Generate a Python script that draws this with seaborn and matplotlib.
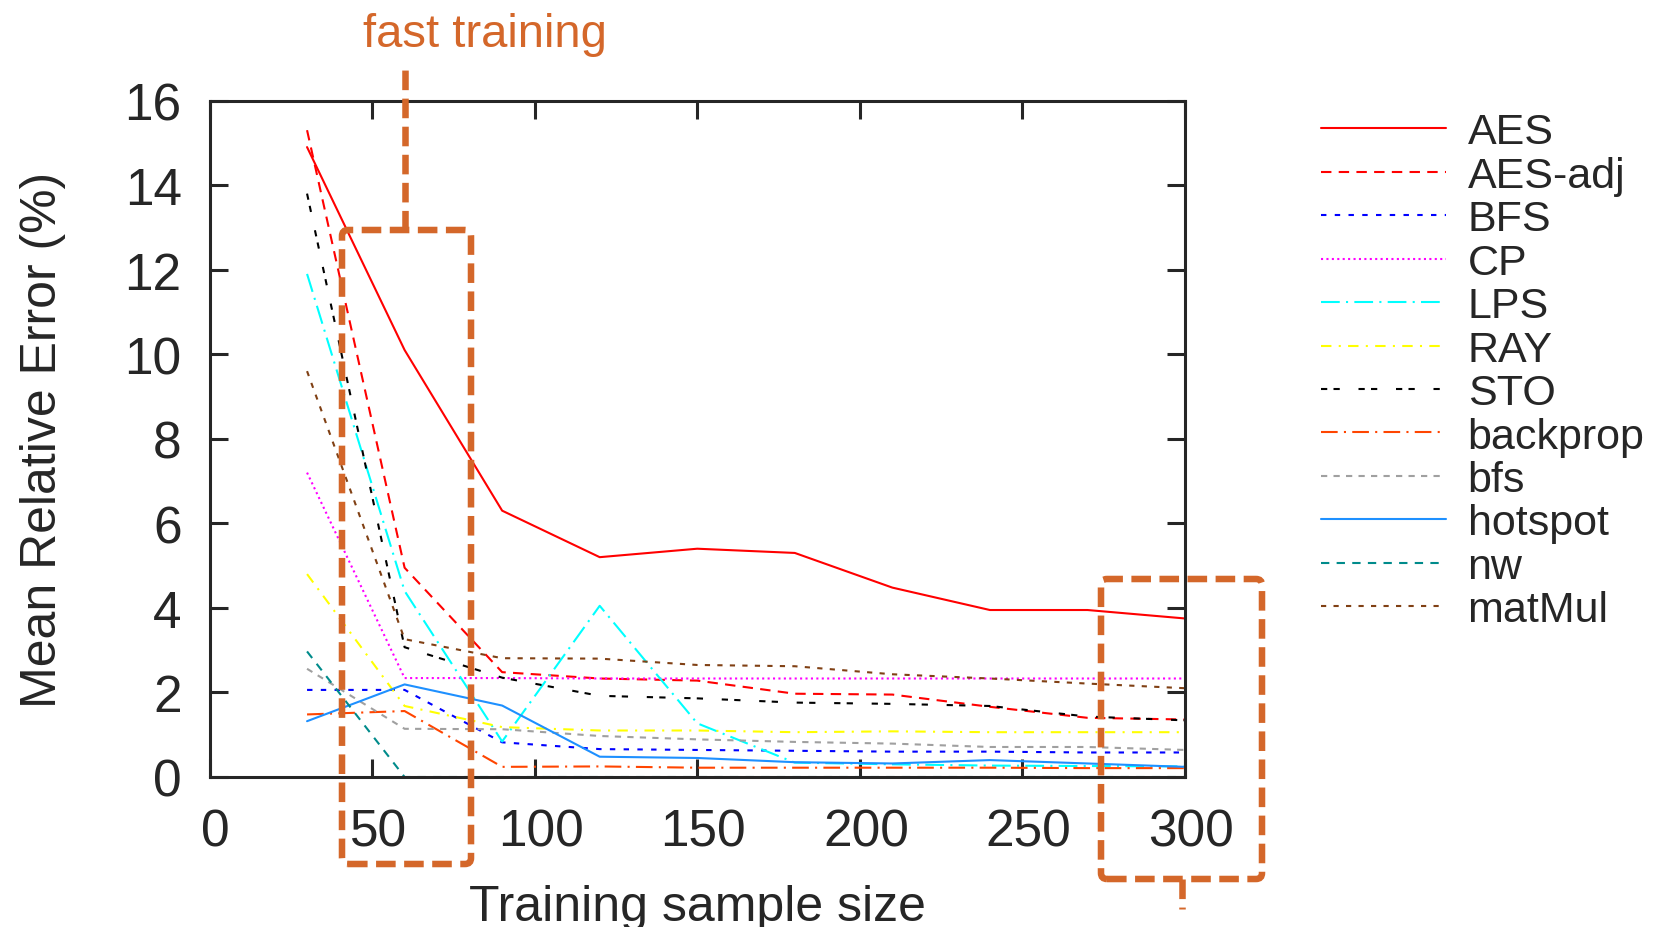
import matplotlib
matplotlib.use("Agg")
from matplotlib import pyplot as plt
from matplotlib.lines import Line2D
from matplotlib.patches import FancyBboxPatch
from matplotlib.transforms import IdentityTransform, ScaledTranslation
import pandas as pd
import seaborn as sns

# training sample sizes
sizes = [30, 60, 90, 120, 150, 180, 210, 240, 270, 300]

# mean relative error (%) per benchmark
aes      = [14.9, 10.1, 6.3, 5.2, 5.4, 5.3, 4.48, 3.95, 3.95, 3.75]
aes_adj  = [15.3, 4.95, 2.48, 2.33, 2.28, 1.97, 1.95, 1.66, 1.40, 1.36]
bfs_up   = [2.06, 2.06, 0.82, 0.66, 0.64, 0.62, 0.60, 0.60, 0.58, 0.58]
cp       = [7.2, 2.34, 2.34, 2.33, 2.33, 2.33, 2.33, 2.33, 2.33, 2.33]
lps      = [11.9, 4.4, 0.84, 4.05, 1.27, 0.34, 0.30, 0.27, 0.26, 0.25]
ray      = [4.8, 1.68, 1.18, 1.10, 1.10, 1.06, 1.08, 1.06, 1.06, 1.06]
sto      = [13.8, 3.07, 2.35, 1.92, 1.86, 1.76, 1.73, 1.68, 1.43, 1.34]
backprop = [1.48, 1.56, 0.24, 0.25, 0.22, 0.22, 0.22, 0.22, 0.21, 0.21]
bfs      = [2.56, 1.14, 1.13, 0.97, 0.89, 0.83, 0.79, 0.71, 0.71, 0.64]
hotspot  = [1.32, 2.19, 1.69, 0.48, 0.45, 0.35, 0.32, 0.40, 0.32, 0.24]
nw       = [2.97, 0.0, 0.0, 0.0, 0.0, 0.0, 0.0, 0.0, 0.0, 0.0]
matmul   = [9.6, 3.26, 2.81, 2.80, 2.65, 2.62, 2.43, 2.33, 2.21, 2.10]

names = ["AES", "AES-adj", "BFS", "CP", "LPS", "RAY", "STO",
         "backprop", "bfs", "hotspot", "nw", "matMul"]
series = [aes, aes_adj, bfs_up, cp, lps, ray, sto,
          backprop, bfs, hotspot, nw, matmul]

colors = ["#FF0000", "#FF0000", "#0000FF", "#FF00FF", "#00FFFF", "#FFFF00",
          "#000000", "#FF4500", "#A0A0A0", "#1E90FF", "#008B8B", "#804014"]
styles = ["-", (0, (5, 3.5)), (0, (2.6, 4)), (0, (1, 1.6)), (0, (9, 3, 1, 3)),
          (0, (5, 3.5, 1, 3.5)), (0, (3, 3, 3, 9)), (0, (8, 3, 1, 3)),
          (0, (3, 3)), "-", (0, (4, 3.5)), (0, (2.5, 3.5))]

rows = []
for name, vals in zip(names, series):
    for s, v in zip(sizes, vals):
        rows.append({"size": s, "error": v, "bench": name})
df = pd.DataFrame(rows)

sns.set_style("ticks")
plt.rcParams["font.family"] = ["Liberation Sans", "DejaVu Sans"]

W, H = 1659, 928
fig = plt.figure(figsize=(W / 100, H / 100), dpi=100)
ax = fig.add_axes([209.5 / W, 1 - 778 / H, (1185 - 209.5) / W, (778 - 101.6) / H])

for name, col, ls in zip(names, colors, styles):
    sns.lineplot(data=df[df["bench"] == name], x="size", y="error", ax=ax,
                 color=col, linestyle=ls, linewidth=1.5, label=name)

ax.set_xlim(0, 300)
ax.set_ylim(0, 16)
ax.set_xticks(range(0, 301, 50))
ax.set_yticks(range(0, 17, 2))
ax.tick_params(direction="in", length=13, width=2.2, labelsize=37,
               top=True, right=True)
ax.tick_params(axis="x", pad=22)
ax.tick_params(axis="y", pad=20)
# gnuplot-style labels sit a touch right of the ticks
shift = ScaledTranslation(0.06, 0, fig.dpi_scale_trans)
for lab in ax.get_xticklabels():
    lab.set_transform(lab.get_transform() + shift)
for sp in ax.spines.values():
    sp.set_linewidth(2.2)
    sp.set_visible(True)
ax.set_xlabel("Training sample size", fontsize=36, labelpad=20)
ax.set_ylabel("Mean Relative Error (%)", fontsize=36, labelpad=42)

leg = ax.legend(loc="upper left", bbox_to_anchor=(1.122, 1.008), frameon=False,
                fontsize=31, handlelength=2.9, handletextpad=0.5,
                labelspacing=0.08, borderaxespad=0)

# annotation boxes (figure pixel coordinates)
orange = "#D4672A"
box_kw = dict(fill=False, edgecolor=orange, linewidth=4.7,
              linestyle=(0, (3, 1.3)), transform=IdentityTransform(),
              boxstyle="round,pad=0,rounding_size=6")


def fy(y):
    return H - y


fig.patches.append(FancyBboxPatch((342, fy(865)), 471 - 342, 865 - 231, **box_kw))
fig.patches.append(FancyBboxPatch((1101, fy(880)), 1262 - 1101, 880 - 580, **box_kw))
fig.add_artist(Line2D([405, 405], [fy(231), fy(69)], color=orange, linewidth=4.7,
                      linestyle=(0, (3, 1.3)), transform=IdentityTransform()))
fig.add_artist(Line2D([1182, 1182], [fy(880), fy(910)], color=orange, linewidth=4.7,
                      linestyle=(0, (3, 1.3)), transform=IdentityTransform()))
fig.text(485 / W, 1 - 35 / H, "fast training", color=orange, fontsize=34,
         ha="center", va="center")

plt.savefig("out.png", dpi=100)
